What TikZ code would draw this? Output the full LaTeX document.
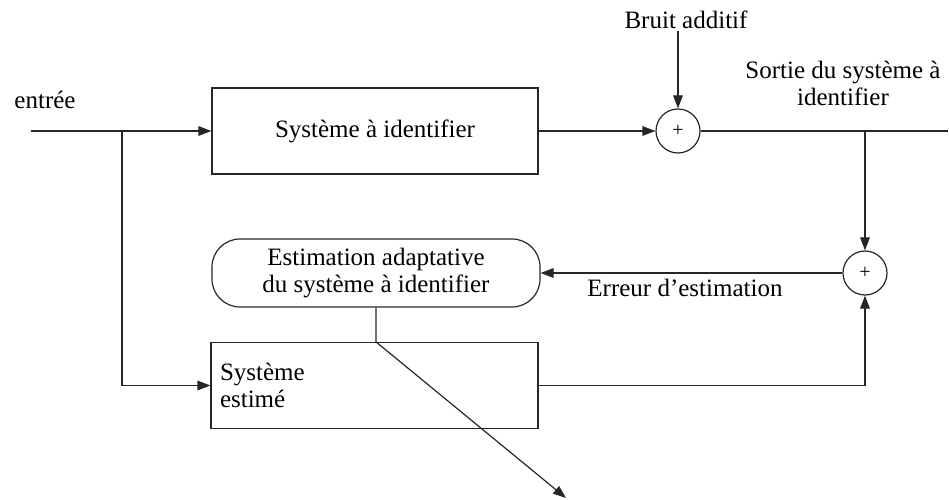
\documentclass[tikz,border=0pt]{standalone}
\usepackage{fontspec}
\setmainfont{Liberation Serif}
\usetikzlibrary{arrows.meta, positioning, calc}

\begin{document}
\begin{tikzpicture}[
  x=0.5pt, y=0.5pt,
  box/.style  = {draw=black!85, line width=0.6pt, minimum width=163pt, minimum height=43pt,
                 align=center, font=\fontsize{12.5}{13.5}\selectfont},
  rbox/.style = {draw=black!85, line width=0.6pt, rounded corners=14pt, minimum width=164pt,
                 minimum height=34pt, align=center, font=\fontsize{12.5}{13.5}\selectfont},
  sumcirc/.style = {draw=black!85, line width=0.6pt, circle, minimum size=22pt, inner sep=0pt,
                    font=\normalsize},
  lbl/.style  = {inner sep=1pt, align=center, font=\fontsize{12.5}{13.5}\selectfont},
  line/.style = {draw=black!85, line width=0.6pt},
  arr/.style  = {line, -{Triangle[length=6.5pt, width=4.8pt]}},
]
\useasboundingbox (0,0) rectangle (949,499);

% ── Systeme a identifier + bruit ─────────────────────────────────────────────
\node[box]     (sys)  at (375,368) {Système à identifier};
\node[sumcirc] (sum1) at (678,368) {+};
\node[lbl]     (bruit) at (686,479) {Bruit additif};
\node[lbl]     (entree) at (45,399) {entrée};
\node[lbl]     (sortie) at (843,416) {Sortie du système à\\identifier};

% ── Estimation ───────────────────────────────────────────────────────────────
\node[rbox]    (est)  at (376,226) {Estimation adaptative\\du système à identifier};
\node[sumcirc] (sum2) at (865,226) {+};
\node[lbl]     (err)  at (685,211) {Erreur d’estimation};
\node[box, text width=154.5pt, inner sep=4.5pt, align=left] (estim) at (374.5,113.5)
     {Système\\estimé};

\coordinate (in)    at (31,368);
\coordinate (split) at (122,368);
\coordinate (out)   at (948,368);
\coordinate (tip)   at (566,1);

% ── Liaisons ─────────────────────────────────────────────────────────────────
\draw[line] (in) -- (split);
\draw[arr]  (split) -- (sys.west);
\draw[arr]  (split) |- (estim.west);
\draw[arr]  (sys.east) -- (sum1.west);
\draw[arr]  (bruit.south -| sum1.north) -- (sum1.north);
\draw[line] (sum1.east) -- (out);
\draw[arr]  (sum1.east -| sum2.north) -- (sum2.north);
\draw[arr]  (estim.east) -| (sum2.south);
\draw[arr]  (sum2.west) -- (est.east);
\draw[arr]  (est.south) -- (est.south |- estim.north) -- (tip);
\end{tikzpicture}
\end{document}
